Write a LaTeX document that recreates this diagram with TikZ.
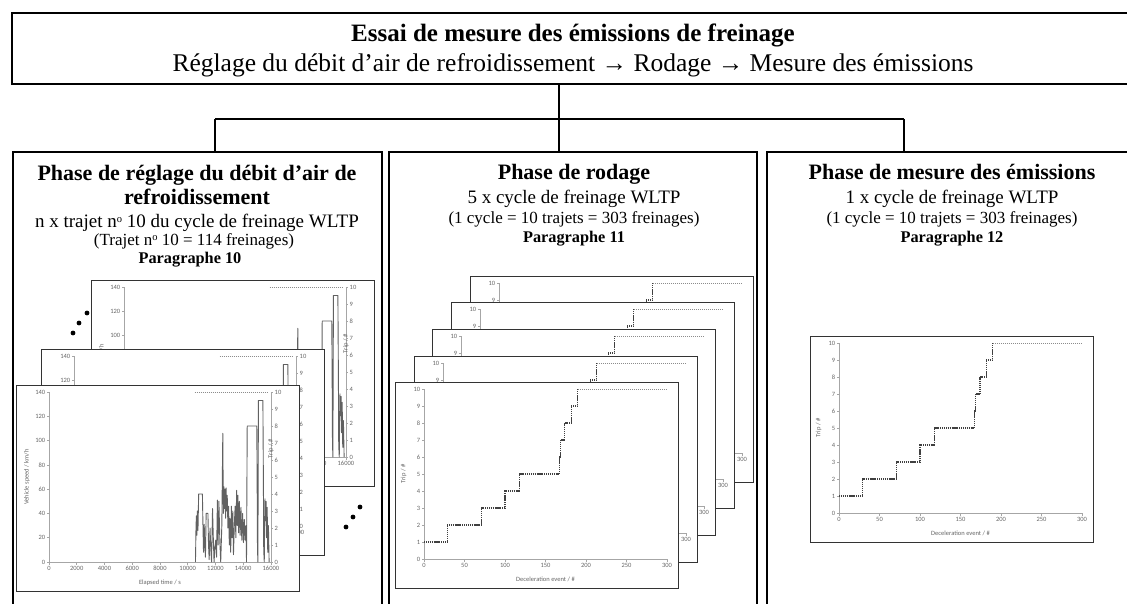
\documentclass[tikz,border=0pt]{standalone}
\usepackage{fontspec}
\setmainfont{Liberation Serif}
\newfontfamily\chartfont{Carlito}
\usetikzlibrary{positioning}

\newcommand{\numero}{n\raisebox{0.62ex}{\fontsize{10.5}{11}\selectfont o}}

\newcommand{\tripchart}[3]{%
  \node [chart-frame, anchor=north west] (#3) at (#1,#2) {};
  \begin{scope}[shift={(#1+29,#2+177)}, x=0.81pt, y=17pt]
    \draw [chart-axis] (0,0) -- (300,0);
    \draw [chart-axis] (0,0) -- (0,10);
    \foreach \k in {0,...,10}
      \draw [chart-axis] (0,\k) -- ++(-2.5pt,0) node [chart-tick, left] {\k};
    \foreach \e in {0,50,...,300}
      \draw [chart-axis] (\e,0) -- ++(0,-2.5pt) node [chart-tick, below] {\e};
    \draw [trip-steps] (0,1) -| (29,2) -| (71,3) -| (100,4) -| (118,5)
      -| (167,6) -| (169,7) -| (174,8) -| (182,9) -| (190,10);
    \draw [trip-flat] (190,10) -- (300,10);
    \node [chart-tick, rotate=90] at (-25,5) {Trip / \#};
    \node [chart-tick] at (150,-1.2) {Deceleration event / \#};
  \end{scope}
}

\newcommand{\speedchart}[3]{%
  \node [chart-frame, anchor=north west] (#3) at (#1,#2) {};
  \begin{scope}[shift={(#1+33,#2+177)}, x=0.013875pt, y=1.2143pt]
    \draw [chart-axis] (0,0) -- (16000,0);
    \draw [chart-axis] (0,0) -- (0,140);
    \draw [chart-axis] (16000,0) -- (16000,140);
    \foreach \v in {0,20,...,140}
      \draw [chart-axis] (0,\v) -- ++(-2.5pt,0) node [chart-tick, left] {\v};
    \foreach \k in {0,...,10}
      \draw [chart-axis] (16000,14*\k) -- ++(2.5pt,0) node [chart-tick, right] {\k};
    \foreach \s in {0,2000,4000,6000,8000,10000,12000,14000,16000}
      \draw [chart-axis] (\s,0) -- ++(0,-2.5pt) node [chart-tick, below] {\s};
    \draw [trip-flat] (10500,140) -- (15800,140);
    \draw [speed-trace] plot coordinates {
      (10560,0) (10600,30) (10630,38) (10660,22) (10700,42) (10740,26)
      (10790,56) (11060,56) (11100,30) (11140,8) (11190,31) (11230,14)
      (11280,4) (11330,40) (11460,40) (11500,14) (11550,2) (11610,28)
      (11660,12) (11720,0) (11790,44) (11850,18) (11900,0) (11960,12)
      (12020,18) (12080,4) (12140,51) (12190,14) (12250,50) (12320,16)
      (12380,0) (12460,30) (12530,106) (12570,40) (12610,62) (12650,44)
      (12690,60) (12730,36) (12770,61) (12810,42) (12850,55) (12900,28)
      (12950,46) (13000,14) (13050,36) (13100,8) (13150,46) (13200,20)
      (13250,42) (13300,6) (13360,30) (13420,46) (13470,20) (13530,59)
      (13580,30) (13620,55) (13670,24) (13720,50) (13780,22) (13840,45)
      (13900,18) (13960,40) (14020,16) (14080,35) (14140,18) (14200,30)
      (14240,0) (14290,112) (14980,112) (15000,80) (15030,12) (15060,0)
      (15100,133) (15420,133) (15450,80) (15480,10) (15520,0) (15570,52)
      (15610,34) (15650,50) (15690,20) (15730,45) (15770,8) (15820,30)
      (15870,0)};
    \node [chart-tick, rotate=90] at (-1590,70) {Vehicle speed / km/h};
    \node [chart-tick, rotate=90, xshift=21pt] at (16000,76) {Trip / \#};
    \node [chart-tick] at (8000,-17) {Elapsed time / s};
  \end{scope}
}

\begin{document}
\begin{tikzpicture}[
  x=1pt, y=-1pt,
  panel/.style={draw, line width=2.4pt, inner sep=0pt},
  link/.style={line width=2pt},
  titre/.style={font=\bfseries\fontsize{25}{27}\selectfont, anchor=base, inner sep=0pt},
  sous-titre/.style={font=\fontsize{25.5}{27}\selectfont, anchor=base, inner sep=0pt},
  heading/.style={font=\bfseries\fontsize{22}{24}\selectfont, anchor=base, inner sep=0pt},
  cycle-text/.style={font=\fontsize{19}{21}\selectfont, anchor=base, inner sep=0pt},
  freinages/.style={font=\fontsize{17}{18}\selectfont, anchor=base, inner sep=0pt},
  paragraphe/.style={font=\bfseries\fontsize{16.3}{18}\selectfont, anchor=base, inner sep=0pt},
  chart-frame/.style={draw=black!80, fill=white, line width=1.3pt,
    minimum width=283pt, minimum height=206pt, inner sep=0pt},
  chart-axis/.style={draw=black!35, line width=0.6pt},
  chart-tick/.style={font=\chartfont\fontsize{6.5}{7}\selectfont, text=black!60, inner sep=1pt},
  trip-steps/.style={draw=black!75, line width=1.1pt, dash pattern=on 1.2pt off 0.7pt},
  trip-flat/.style={draw=black!45, line width=0.8pt, dash pattern=on 1pt off 1pt},
  speed-trace/.style={draw=black!62, line width=0.9pt, line join=round},
  ]
  \useasboundingbox (0,0) rectangle (1127,604);
  \clip (0,0) rectangle (1127,604);

  \node [panel, minimum width=1124pt, minimum height=71pt, anchor=north west] (essai) at (11,12) {};
  \node [titre] (essai-titre) at (573,42) {Essai de mesure des émissions de freinage};
  \node [sous-titre] (essai-etapes) at (573,72)
    {Réglage du débit d’air de refroidissement → Rodage → Mesure des émissions};

  \node [panel, minimum width=369pt, minimum height=470pt, anchor=north west] (panel-reglage) at (12,151) {};
  \node [panel, minimum width=368pt, minimum height=470pt, anchor=north west] (panel-rodage) at (388,151) {};
  \node [panel, minimum width=370pt, minimum height=470pt, anchor=north west] (panel-mesure) at (766,151) {};

  \coordinate (fork) at (559,119);
  \coordinate (fork-left) at (215,119);
  \coordinate (fork-right) at (904,119);
  \draw [link] (essai.south -| fork) -- (fork);
  \draw [link] (fork-left) -- (fork-right);
  \draw [link] (fork-left) -- (fork-left |- panel-reglage.north);
  \draw [link] (fork) -- (fork |- panel-rodage.north);
  \draw [link] (fork-right) -- (fork-right |- panel-mesure.north);

  \node [heading] (reglage-l1) at (197,181) {Phase de réglage du débit d’air de};
  \node [heading] (reglage-l2) at (197,205) {refroidissement};
  \node [cycle-text] (reglage-l3) at (197,228) {n x trajet \numero{} 10 du cycle de freinage WLTP};
  \node [freinages] (reglage-l4) at (194,245) {(Trajet \numero{} 10 = 114 freinages)};
  \node [paragraphe] (reglage-l5) at (190,263) {Paragraphe 10};

  \node [heading] (rodage-l1) at (574,180) {Phase de rodage};
  \node [cycle-text] (rodage-l2) at (574,204) {5 x cycle de freinage WLTP};
  \node [freinages] (rodage-l3) at (574,224) {(1 cycle = 10 trajets = 303 freinages)};
  \node [paragraphe] (rodage-l4) at (574,243) {Paragraphe 11};

  \node [heading] (mesure-l1) at (952,180) {Phase de mesure des émissions};
  \node [cycle-text] (mesure-l2) at (952,204) {1 x cycle de freinage WLTP};
  \node [freinages] (mesure-l3) at (952,224) {(1 cycle = 10 trajets = 303 freinages)};
  \node [paragraphe] (mesure-l4) at (952,243) {Paragraphe 12};

  \speedchart{91}{280}{vitesse-3}
  \speedchart{41}{349}{vitesse-2}
  \speedchart{16}{385}{vitesse-1}
  \foreach \px/\py in {73/333, 79/323, 87/313, 346/527, 353/517, 360/507}
    \fill (\px,\py) circle (2.4pt);

  \tripchart{470}{276}{rodage-5}
  \tripchart{451}{302}{rodage-4}
  \tripchart{432}{329}{rodage-3}
  \tripchart{414}{356}{rodage-2}
  \tripchart{395}{382}{rodage-1}

  \tripchart{810}{336}{mesure-cycle}
\end{tikzpicture}
\end{document}
